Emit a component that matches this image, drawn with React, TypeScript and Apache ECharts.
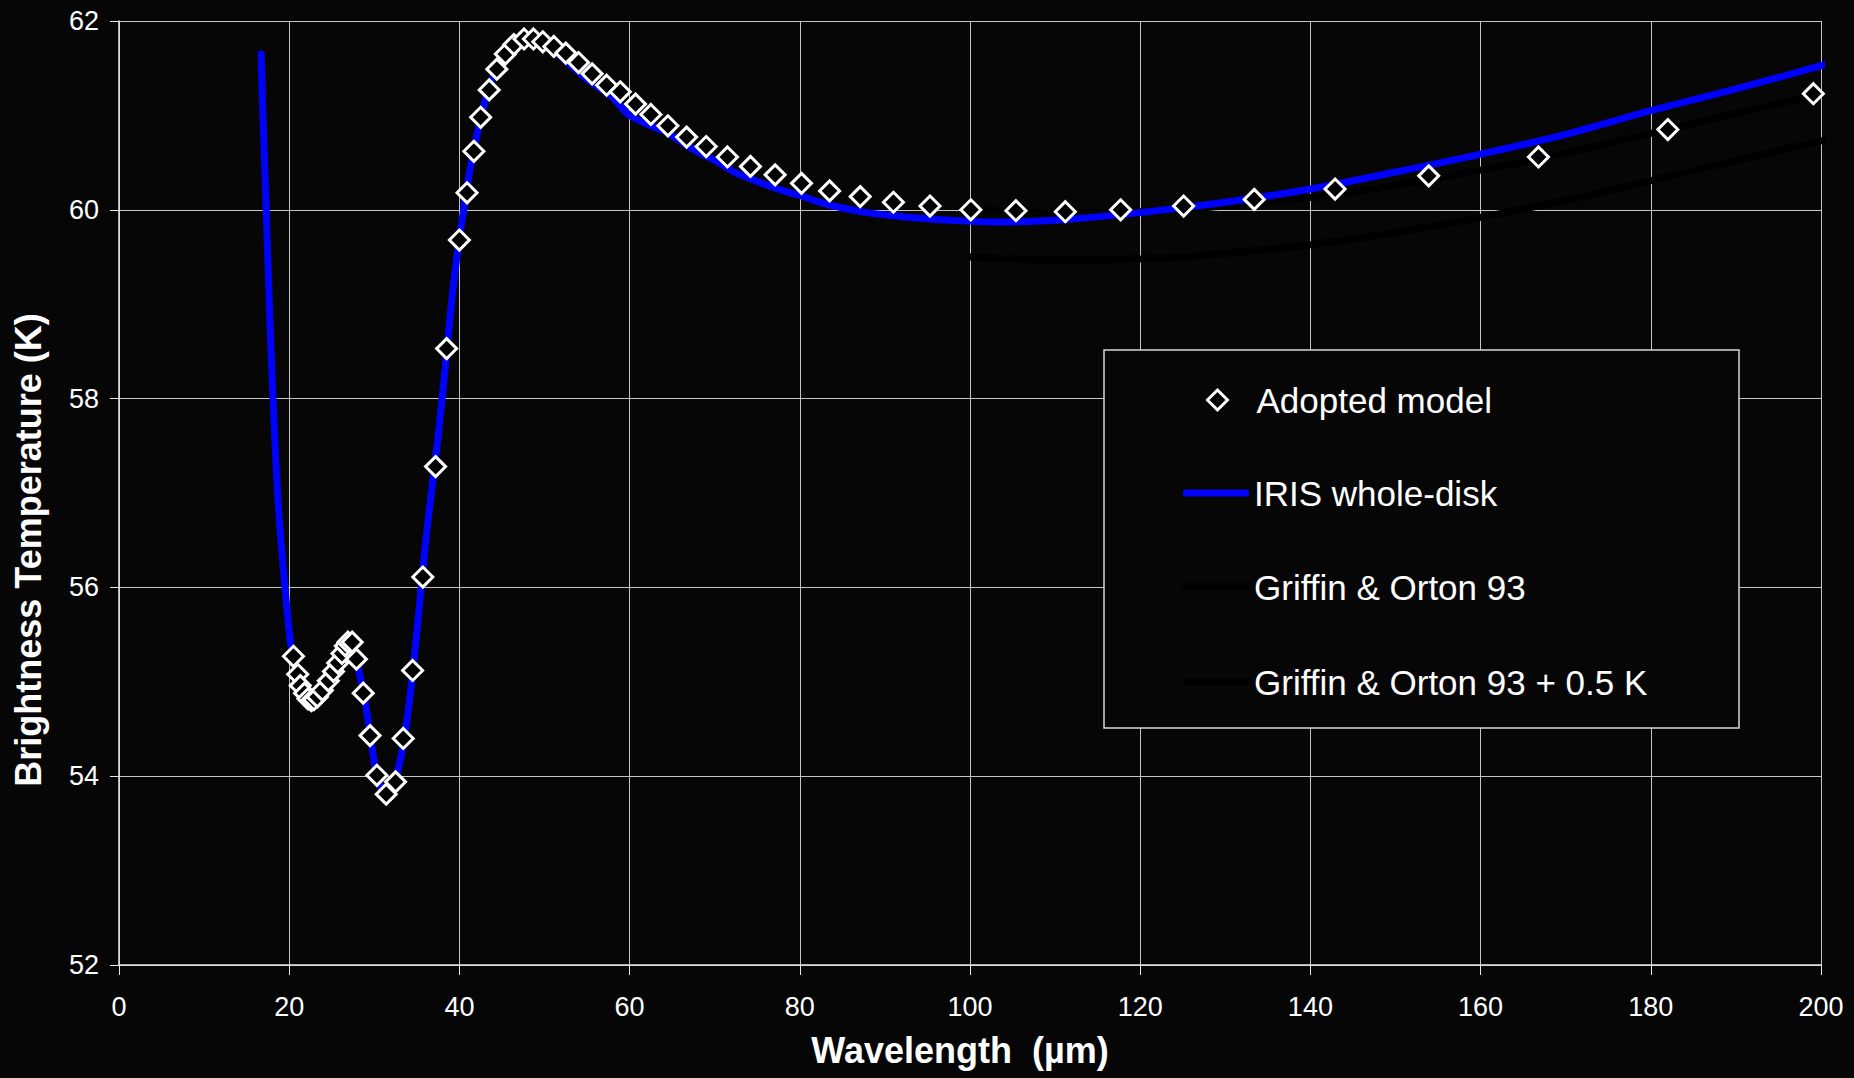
import React, { useEffect, useRef } from "react";
import * as echarts from "echarts";

// ---- Data ----
const adoptedX = [20.5, 21.0, 21.3, 21.8, 22.2, 22.6, 22.9, 23.3, 23.9, 24.6, 25.2, 25.7, 26.2, 26.6, 26.9, 27.4, 27.9, 28.7, 29.5, 30.3, 31.4, 32.5, 33.4, 34.5, 35.7, 37.2, 38.5, 40.0, 40.9, 41.7, 42.5, 43.5, 44.4, 45.4, 46.4, 47.6, 48.7, 49.8, 51.1, 52.5, 54.0, 55.6, 57.3, 58.9, 60.7, 62.5, 64.5, 66.7, 69.0, 71.5, 74.2, 77.1, 80.2, 83.5, 87.1, 91.0, 95.3, 100.1, 105.4, 111.2, 117.7, 125.1, 133.4, 142.9, 153.9, 166.8, 182.0, 199.1];
const adoptedY = [55.27, 55.08, 54.96, 54.88, 54.82, 54.80, 54.81, 54.84, 54.91, 55.01, 55.11, 55.20, 55.30, 55.38, 55.42, 55.42, 55.24, 54.88, 54.43, 54.01, 53.81, 53.94, 54.40, 55.12, 56.11, 57.28, 58.53, 59.68, 60.18, 60.62, 60.98, 61.27, 61.49, 61.65, 61.75, 61.81, 61.81, 61.78, 61.73, 61.66, 61.56, 61.44, 61.32, 61.25, 61.12, 61.01, 60.89, 60.77, 60.67, 60.56, 60.46, 60.37, 60.28, 60.20, 60.14, 60.08, 60.04, 60.00, 59.99, 59.98, 60.00, 60.04, 60.11, 60.22, 60.36, 60.56, 60.85, 61.23];

const irisX = [16.7, 16.9, 17.3, 17.7, 18.1, 18.7, 19.5, 20.2, 20.6, 21.3, 22.2, 23.0, 24.0, 25.0, 26.0, 26.8, 27.5, 28.1, 28.8, 29.5, 30.2, 30.9, 31.5, 32.3, 33.0, 33.6, 34.2, 34.8, 35.4, 36.0, 36.7, 37.5, 38.3, 39.0, 39.7, 40.5, 41.3, 42.2, 43.0, 44.0, 45.0, 46.0, 47.0, 48.0, 49.0, 50.0, 51.5, 53.0, 54.5, 55.8, 57.8, 58.9, 60.0, 62.5, 64.4, 66.4, 68.3, 70.3, 72.3, 74.2, 76.2, 78.1, 80.1, 82.0, 84.0, 87.9, 91.8, 95.7, 99.6, 103.5, 110, 120, 130, 140, 150, 160, 170, 180, 190, 200.5];
const irisY = [61.65, 61.04, 60.0, 58.9, 58.0, 56.9, 56.0, 55.38, 55.2, 54.98, 54.83, 54.81, 54.92, 55.08, 55.28, 55.4, 55.38, 55.15, 54.85, 54.45, 54.05, 53.86, 53.83, 53.92, 54.15, 54.45, 54.85, 55.35, 55.9, 56.45, 57.0, 57.6, 58.3, 58.95, 59.5, 60.0, 60.45, 60.85, 61.15, 61.42, 61.6, 61.72, 61.79, 61.81, 61.8, 61.75, 61.66, 61.54, 61.42, 61.33, 61.21, 61.1, 61.0, 60.89, 60.82, 60.7, 60.6, 60.51, 60.4, 60.33, 60.26, 60.2, 60.15, 60.09, 60.04, 59.97, 59.93, 59.9, 59.88, 59.87, 59.89, 59.97, 60.08, 60.22, 60.4, 60.59, 60.8, 61.05, 61.28, 61.54];

const griffinX = [100, 110, 120, 130, 140, 150, 160, 170, 180, 190, 200.5];
const griffinY = [59.50, 59.47, 59.48, 59.54, 59.63, 59.76, 59.92, 60.10, 60.31, 60.52, 60.74];
const griffinPlusY = [60.00, 59.97, 59.98, 60.04, 60.13, 60.26, 60.42, 60.60, 60.81, 61.02, 61.24];

const seriesNames = ["Adopted model", "IRIS whole-disk", "Griffin & Orton 93", "Griffin & Orton 93 + 0.5 K"];
const xTitle = "Wavelength  (\u00b5m)";
const yTitle = "Brightness Temperature (K)";

const FONT = "'Liberation Sans', Arial, Helvetica, sans-serif";
const BG = "#060606";

const zip = (xs: number[], ys: number[]) => xs.map((x, i) => [x, ys[i]]);

export default function App() {
  const ref = useRef<HTMLDivElement>(null);
  useEffect(() => {
    if (!ref.current) return;
    const chart = echarts.init(ref.current, null, { renderer: "svg" });
    const legendBase = {
      orient: "horizontal",
      padding: 0,
      selectedMode: false,
      textStyle: { color: "#ffffff", fontSize: 35, fontFamily: FONT, lineHeight: 40 },
    };
    const lineLegend = (name: string, top: number) => ({
      ...legendBase,
      data: [{ name, icon: "roundRect" }],
      left: 1183,
      top,
      itemWidth: 66,
      itemHeight: 7,
    });
    chart.setOption({
      animation: false,
      backgroundColor: BG,
      grid: { left: 119, top: 21, width: 1702, height: 944, show: false, containLabel: false },
      xAxis: {
        type: "value",
        min: 0,
        max: 200,
        interval: 20,
        axisLine: { show: true, lineStyle: { color: "#e6e6e6", width: 1.5 } },
        axisTick: { show: true, inside: false, length: 10, lineStyle: { color: "#e6e6e6", width: 1 } },
        axisLabel: { color: "#ffffff", fontSize: 27, fontFamily: FONT, margin: 28 },
        splitLine: { show: true, lineStyle: { color: "#c4c4c4", width: 1 } },
      },
      yAxis: {
        type: "value",
        min: 52,
        max: 62,
        interval: 2,
        axisLine: { show: true, lineStyle: { color: "#e6e6e6", width: 1.5 } },
        axisTick: { show: true, inside: false, length: 9, lineStyle: { color: "#e6e6e6", width: 1 } },
        axisLabel: { color: "#ffffff", fontSize: 27, fontFamily: FONT, margin: 20 },
        splitLine: { show: true, lineStyle: { color: "#c4c4c4", width: 1 } },
      },
      legend: [
        {
          ...legendBase,
          data: [{ name: seriesNames[0], icon: "diamond" }],
          left: 1206,
          top: 380,
          itemWidth: 20,
          itemHeight: 20,
          itemStyle: { color: "#000000", borderColor: "#ffffff", borderWidth: 3 },
          textStyle: { ...legendBase.textStyle, padding: [0, 0, 0, 24] },
        },
        lineLegend(seriesNames[1], 473),
        lineLegend(seriesNames[2], 567),
        lineLegend(seriesNames[3], 662),
      ],
      graphic: [
        {
          type: "rect",
          z: 3,
          shape: { x: 1104, y: 350, width: 635, height: 378 },
          style: { fill: BG, stroke: "#d8d8d8", lineWidth: 1.5 },
        },
        {
          type: "text",
          x: 28,
          y: 550,
          rotation: Math.PI / 2,
          z: 5,
          style: {
            text: yTitle,
            fill: "#ffffff",
            font: `bold 36px ${FONT}`,
            align: "center",
            verticalAlign: "middle",
          },
        },
        {
          type: "text",
          x: 960,
          y: 1050,
          z: 5,
          style: {
            text: xTitle,
            fill: "#ffffff",
            font: `bold 36px ${FONT}`,
            align: "center",
            verticalAlign: "middle",
          },
        },
      ],
      series: [
        {
          name: seriesNames[2],
          type: "line",
          z: 2,
          symbol: "none",
          smooth: true,
          clip: false,
          color: "#000000",
          lineStyle: { color: "#000000", width: 7, cap: "round" },
          data: zip(griffinX, griffinY),
        },
        {
          name: seriesNames[3],
          type: "line",
          z: 2,
          symbol: "none",
          smooth: true,
          clip: false,
          color: "#000000",
          lineStyle: { color: "#000000", width: 7, cap: "round" },
          data: zip(griffinX, griffinPlusY),
        },
        {
          name: seriesNames[1],
          type: "line",
          z: 3,
          symbol: "none",
          smooth: 0.3,
          clip: false,
          color: "#0000ff",
          lineStyle: { color: "#0000ff", width: 7, cap: "round", join: "round" },
          data: zip(irisX, irisY),
        },
        {
          name: seriesNames[0],
          type: "scatter",
          z: 4,
          symbol: "diamond",
          symbolSize: 20,
          itemStyle: { color: "#000000", borderColor: "#ffffff", borderWidth: 3, opacity: 1 },
          data: zip(adoptedX, adoptedY),
        },
      ],
    });
    return () => chart.dispose();
  }, []);
  return (
    <div
      ref={ref}
      style={{ position: "fixed", left: 0, top: 0, width: 1854, height: 1078, background: BG }}
    />
  );
}
